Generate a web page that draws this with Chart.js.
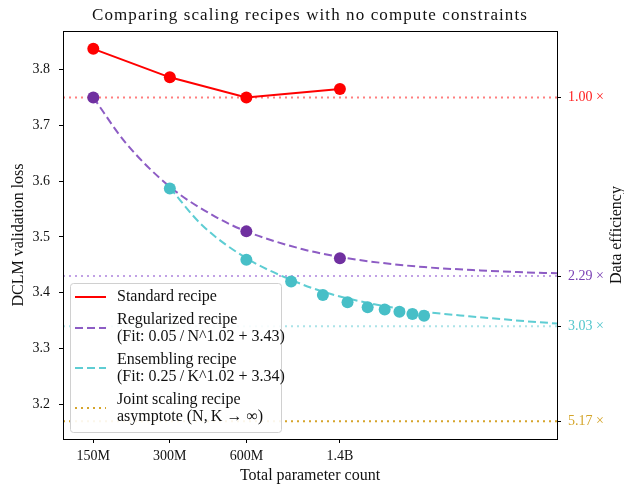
<!DOCTYPE html>
<html>
<head>
<meta charset="utf-8">
<script src="https://cdn.jsdelivr.net/npm/chart.js@4.4.1/dist/chart.umd.min.js"></script>
<style>
  body { margin: 0; background: #fff; }
  canvas { display: block; }
</style>
</head>
<body>
<canvas id="scaling-chart" width="624" height="485"></canvas>
<script>
var FONT = '"Liberation Serif", "Times New Roman", serif';

// axis ranges
var xMin = 114e6, xMax = 1e10;
var yMin = 3.138, yMax = 3.869;

var paramTicks = [150e6, 300e6, 600e6, 1.4e9];
var paramTickLabels = ['150M', '300M', '600M', '1.4B'];
var lossTicks = [3.2, 3.3, 3.4, 3.5, 3.6, 3.7, 3.8];

// measured runs
var standardParams = [150e6, 300e6, 600e6, 1.4e9];
var standardLoss = [3.837, 3.786, 3.750, 3.765];

var regularizedParams = [150e6, 600e6, 1.4e9];
var regularizedLoss = [3.750, 3.510, 3.462];

var ensembleParams = [300e6, 600e6, 900e6, 1.2e9, 1.5e9, 1.8e9, 2.1e9, 2.4e9, 2.7e9, 3.0e9];
var ensembleLoss = [3.587, 3.459, 3.420, 3.396, 3.383, 3.374, 3.370, 3.366, 3.362, 3.359];

// fitted curves
var regularizedFitParams = [150e6, 200e6, 300e6, 450e6, 600e6, 1e9, 1.4e9, 2e9, 3e9, 5e9, 7e9, 10e9];
var regularizedFitLoss = [3.750, 3.670, 3.590, 3.537, 3.510, 3.478, 3.464, 3.454, 3.446, 3.440, 3.437, 3.435];

var ensembleFitParams = [300e6, 400e6, 600e6, 900e6, 1.2e9, 1.5e9, 2.1e9, 3e9, 4.5e9, 6e9, 8e9, 10e9];
var ensembleFitLoss = [3.588, 3.522, 3.462, 3.423, 3.402, 3.390, 3.376, 3.366, 3.358, 3.353, 3.348, 3.345];

// asymptotes and data efficiency on the right axis
var asymptoteLoss = [3.75, 3.43, 3.34, 3.17];
var efficiencyLabels = ['1.00 \u00d7', '2.29 \u00d7', '3.03 \u00d7', '5.17 \u00d7'];
var efficiencyColors = ['#ff2020', '#7a40b4', '#52c6cc', '#d4a52a'];
var asymptoteColors = ['rgba(255,0,0,0.5)', 'rgba(160,110,215,0.65)', 'rgba(90,200,210,0.5)', '#d6a52c'];

var red = '#ff0000';
var purpleMarker = '#7030a0', purpleLine = '#8d5cc4';
var cyanMarker = '#47bfc7', cyanLine = '#5ecdd3';

function pts(xs, ys) {
    return xs.map(function(x, i) { return { x: x, y: ys[i] }; });
}

function hline(y) {
    return [{ x: xMin, y: y }, { x: xMax, y: y }];
}

var datasets = [
    { label: 'Standard recipe', data: pts(standardParams, standardLoss),
      borderColor: red, backgroundColor: red, borderWidth: 2,
      pointRadius: 6, pointBorderWidth: 0, pointBackgroundColor: red, order: 1 },
    { label: 'reg-points', data: pts(regularizedParams, regularizedLoss), showLine: false,
      pointRadius: 6, pointBorderWidth: 0, pointBackgroundColor: purpleMarker, order: 1 },
    { label: 'ens-points', data: pts(ensembleParams, ensembleLoss), showLine: false,
      pointRadius: 6, pointBorderWidth: 0, pointBackgroundColor: cyanMarker, order: 1 },
    { label: 'Regularized recipe', data: pts(regularizedFitParams, regularizedFitLoss),
      borderColor: purpleLine, borderWidth: 2, borderDash: [8, 4], pointRadius: 0,
      cubicInterpolationMode: 'monotone', order: 2 },
    { label: 'Ensembling recipe', data: pts(ensembleFitParams, ensembleFitLoss),
      borderColor: cyanLine, borderWidth: 2, borderDash: [8, 4], pointRadius: 0,
      cubicInterpolationMode: 'monotone', order: 2 }
];

asymptoteLoss.forEach(function(v, i) {
    datasets.push({ label: 'asymptote-' + i, data: hline(v), borderColor: asymptoteColors[i],
        borderWidth: 2, borderDash: [2, 4], pointRadius: 0, order: 3 });
});

var legendItems = [
    { lines: ['Standard recipe'], color: red, dash: [] },
    { lines: ['Regularized recipe', '(Fit: 0.05\u2009/\u2009N^1.02 + 3.43)'], color: purpleLine, dash: [8, 4] },
    { lines: ['Ensembling recipe', '(Fit: 0.25\u2009/\u2009K^1.02 + 3.34)'], color: cyanLine, dash: [8, 4] },
    { lines: ['Joint scaling recipe', 'asymptote (N,\u2009K \u2192 \u221e)'], color: '#d6a52c', dash: [2, 4] }
];

// title, frame, right axis title and the legend box
var decorations = {
    id: 'decorations',
    afterDatasetsDraw: function(chart) {
        var ctx = chart.ctx;
        ctx.save();

        // legend
        var lx = 70, ly = 283, lw = 211, lh = 149;
        ctx.beginPath();
        ctx.roundRect(lx + 0.5, ly + 0.5, lw, lh, 3);
        ctx.fillStyle = 'rgba(255,255,255,0.9)';
        ctx.fill();
        ctx.strokeStyle = '#d0d0d0';
        ctx.lineWidth = 1;
        ctx.stroke();

        ctx.font = '16px ' + FONT;
        ctx.textBaseline = 'middle';
        ctx.textAlign = 'left';
        var y = ly + 14;
        legendItems.forEach(function(item) {
            var mid = y + (item.lines.length - 1) * 8.5;
            ctx.beginPath();
            ctx.setLineDash(item.dash);
            ctx.strokeStyle = item.color;
            ctx.lineWidth = 2;
            ctx.moveTo(75, mid);
            ctx.lineTo(106, mid);
            ctx.stroke();
            ctx.setLineDash([]);
            ctx.fillStyle = '#111';
            item.lines.forEach(function(t, k) {
                ctx.fillText(t, 117, y + k * 17.5);
            });
            y += item.lines.length * 17.5 + 5;
        });

        ctx.restore();
    },
    afterDraw: function(chart) {
        var ctx = chart.ctx, a = chart.chartArea;
        ctx.save();
        ctx.strokeStyle = '#000';
        ctx.lineWidth = 1;
        ctx.strokeRect(a.left + 0.5, a.top + 0.5, a.right - a.left, a.bottom - a.top);

        ctx.fillStyle = '#111';
        ctx.font = '17px ' + FONT;
        ctx.letterSpacing = '1.1px';
        ctx.textAlign = 'center';
        ctx.textBaseline = 'alphabetic';
        ctx.fillText('Comparing scaling recipes with no compute constraints', (a.left + a.right) / 2, 20);
        ctx.letterSpacing = '0px';

        ctx.font = '16px ' + FONT;
        ctx.textBaseline = 'middle';
        ctx.translate(617, (a.top + a.bottom) / 2);
        ctx.rotate(-Math.PI / 2);
        ctx.fillText('Data efficiency', 0, 0);
        ctx.restore();
    }
};

var ctx = document.getElementById('scaling-chart').getContext('2d');
var scalingChart = new Chart(ctx, {
    type: 'line',
    data: { datasets: datasets },
    plugins: [decorations],
    options: {
        responsive: false,
        animation: false,
        layout: { padding: { top: 31, left: 0, right: 0, bottom: 0 } },
        plugins: {
            legend: { display: false },
            tooltip: { enabled: false }
        },
        scales: {
            x: {
                type: 'logarithmic',
                min: xMin, max: xMax,
                afterBuildTicks: function(scale) {
                    scale.ticks = paramTicks.map(function(v) { return { value: v }; });
                },
                afterFit: function(scale) { scale.height = 46; },
                ticks: {
                    color: '#111', font: { family: FONT, size: 14 }, padding: 5,
                    maxRotation: 0, autoSkip: false,
                    callback: function(value, index) { return paramTickLabels[index]; }
                },
                grid: { drawOnChartArea: false, drawTicks: true, tickLength: 4, tickColor: '#000' },
                border: { color: '#000' },
                title: { display: true, text: 'Total parameter count', color: '#111',
                         font: { family: FONT, size: 16 }, padding: { top: 0, bottom: 0 } }
            },
            y: {
                type: 'linear', position: 'left',
                min: yMin, max: yMax,
                afterBuildTicks: function(scale) {
                    scale.ticks = lossTicks.map(function(v) { return { value: v }; });
                },
                afterFit: function(scale) { scale.width = 63; },
                ticks: {
                    color: '#111', font: { family: FONT, size: 14 }, padding: 9,
                    callback: function(value) { return value.toFixed(1); }
                },
                grid: { drawOnChartArea: false, drawTicks: true, tickLength: 4, tickColor: '#000' },
                border: { color: '#000' },
                title: { display: true, text: 'DCLM validation loss', color: '#111',
                         font: { family: FONT, size: 16 }, padding: { top: 9, bottom: 0 } }
            },
            y2: {
                type: 'linear', position: 'right',
                min: yMin, max: yMax,
                afterBuildTicks: function(scale) {
                    scale.ticks = asymptoteLoss.map(function(v) { return { value: v }; });
                },
                afterFit: function(scale) { scale.width = 67; },
                ticks: {
                    font: { family: FONT, size: 14 }, padding: 7,
                    color: function(c) { return efficiencyColors[c.index]; },
                    callback: function(value, index) { return efficiencyLabels[index]; }
                },
                grid: { drawOnChartArea: false, drawTicks: true, tickLength: 4, tickColor: '#000' },
                border: { color: '#000' }
            }
        }
    }
});
</script>
</body>
</html>
